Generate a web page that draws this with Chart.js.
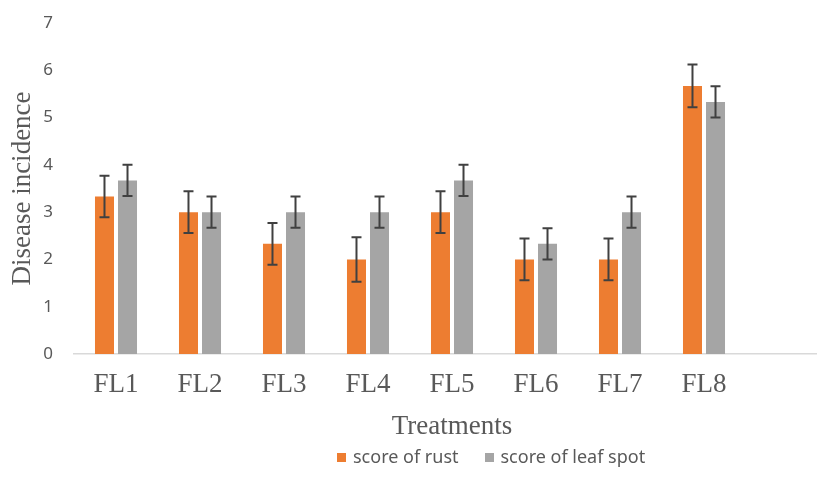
<!DOCTYPE html>
<html>
<head>
<meta charset="utf-8">
<script src="https://cdn.jsdelivr.net/npm/chart.js@4"></script>
<style>
  html, body { margin: 0; padding: 0; overflow: hidden; background: #fff; }
  #wrap { position: relative; width: 830px; height: 482px; }
  #legend { position: absolute; left: 337px; top: 444px; font: 18px "Noto Sans", sans-serif; color: #595959; white-space: nowrap; }
  #legend span.box { display: inline-block; width: 9px; height: 9px; margin-right: 7px; vertical-align: 1px; }
  #legend span.item { margin-right: 26px; }
</style>
</head>
<body>
<div id="wrap">
  <canvas id="chart"></canvas>
  <div id="legend"></div>
</div>
<script>
// categories (last slot is empty in the original)
const treatments = ['FL1', 'FL2', 'FL3', 'FL4', 'FL5', 'FL6', 'FL7', 'FL8', ''];

// series values
const rustScores = [3.33, 3.0, 2.33, 2.0, 3.0, 2.0, 2.0, 5.67];
const leafSpotScores = [3.67, 3.0, 3.0, 3.0, 3.67, 2.33, 3.0, 5.33];

// error bar half-lengths
const rustErrors = [0.44, 0.44, 0.44, 0.47, 0.44, 0.44, 0.44, 0.45];
const leafSpotErrors = [0.33, 0.33, 0.33, 0.33, 0.33, 0.33, 0.33, 0.33];

// y axis ticks
const yTicks = [0, 1, 2, 3, 4, 5, 6, 7];

const rustColor = '#ED7D31';
const leafColor = '#A5A5A5';
const textColor = '#595959';

// draws the error bars on top of each bar
const errorBars = {
    id: 'errorBars',
    afterDatasetsDraw(chart) {
        const ctx = chart.ctx;
        const yScale = chart.scales.y;
        chart.data.datasets.forEach((ds, i) => {
            const meta = chart.getDatasetMeta(i);
            meta.data.forEach((bar, j) => {
                const v = ds.data[j];
                const e = ds.errors[j];
                if (v == null || e == null) return;
                const top = yScale.getPixelForValue(v + e);
                const bottom = yScale.getPixelForValue(v - e);
                ctx.save();
                ctx.strokeStyle = '#404040';
                ctx.lineWidth = 2;
                ctx.beginPath();
                ctx.moveTo(bar.x, top);
                ctx.lineTo(bar.x, bottom);
                ctx.moveTo(bar.x - 5, top);
                ctx.lineTo(bar.x + 5, top);
                ctx.moveTo(bar.x - 5, bottom);
                ctx.lineTo(bar.x + 5, bottom);
                ctx.stroke();
                ctx.restore();
            });
        });
    }
};

const ctx = document.getElementById('chart').getContext('2d');
new Chart(ctx, {
    type: 'bar',
    data: {
        labels: treatments,
        datasets: [
            {
                label: 'score of rust',
                data: rustScores,
                errors: rustErrors,
                backgroundColor: rustColor,
                categoryPercentage: 0.548,
                barPercentage: 0.826
            },
            {
                label: 'score of leaf spot',
                data: leafSpotScores,
                errors: leafSpotErrors,
                backgroundColor: leafColor,
                categoryPercentage: 0.548,
                barPercentage: 0.826
            }
        ]
    },
    options: {
        responsive: true,
        maintainAspectRatio: false,
        animation: false,
        layout: { padding: { top: 23, right: 0, bottom: 0, left: 0 } },
        plugins: {
            legend: { display: false },
            tooltip: { enabled: false }
        },
        scales: {
            x: {
                grid: { display: false, drawTicks: false },
                border: { display: true, color: '#D9D9D9', width: 1.5 },
                ticks: {
                    color: textColor,
                    padding: 15,
                    font: { family: '"Liberation Serif", "Times New Roman", serif', size: 27 }
                },
                title: {
                    display: true,
                    text: 'Treatments',
                    color: textColor,
                    padding: { top: 0, bottom: 39 },
                    font: { family: '"Liberation Serif", "Times New Roman", serif', size: 27 }
                },
                afterFit: function(scale) { scale.height = 128; }
            },
            y: {
                min: 0,
                max: 7,
                grid: { display: false, drawTicks: true, tickLength: 21 },
                border: { display: false },
                afterBuildTicks: function(scale) {
                    scale.ticks = yTicks.map(v => ({ value: v }));
                },
                ticks: {
                    color: textColor,
                    padding: 0,
                    font: { family: '"Noto Sans", sans-serif', size: 17 }
                },
                title: {
                    display: true,
                    text: 'Disease incidence',
                    color: textColor,
                    padding: { top: 7, bottom: 0 },
                    font: { family: '"Liberation Serif", "Times New Roman", serif', size: 27 }
                },
                afterFit: function(scale) { scale.width = 74; }
            }
        }
    },
    plugins: [errorBars]
});

// legend
const legendEl = document.getElementById('legend');
[[rustColor, 'score of rust'], [leafColor, 'score of leaf spot']].forEach(([c, t]) => {
    const item = document.createElement('span');
    item.className = 'item';
    const box = document.createElement('span');
    box.className = 'box';
    box.style.background = c;
    item.appendChild(box);
    item.appendChild(document.createTextNode(t));
    legendEl.appendChild(item);
});
</script>
</body>
</html>
